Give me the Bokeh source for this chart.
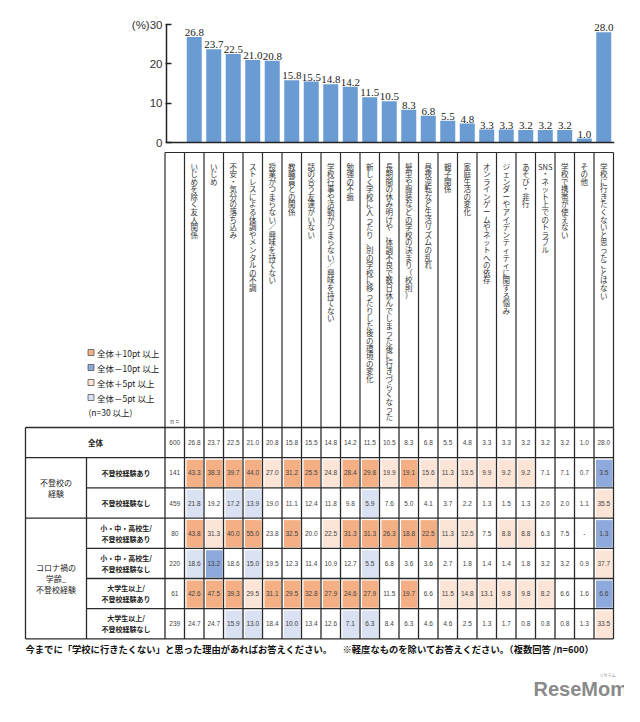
from bokeh.plotting import figure
from bokeh.models import Range1d, LinearAxis, FixedTicker, Span
from bokeh.core.properties import value
from bokeh.embed import file_html
from bokeh.resources import INLINE

# ---------------- data ----------------
categories = [
    "いじめを除く友人関係", "いじめ", "不安・気分の落ち込み", "ストレスによる体調やメンタルの不調",
    "授業がつまらない／興味を持てない", "教職員との関係", "話の合う友達がいない",
    "学校行事や活動がつまらない／興味を持てない", "勉強の不振",
    "新しく学校に入ったり、別の学校に移ったりした後の環境の変化",
    "長期間の休み明けや、体調不良で数日休んでしまった後に行きづらくなった",
    "髪型や服装などの学校の決まり（校則）", "昼夜逆転など生活リズムの乱れ", "親子関係",
    "家庭生活の変化", "オンラインゲームやネットへの依存", "ジェンダーやアイデンティティに関する悩み",
    "あそび・非行", "SNS・ネット上でのトラブル", "学校で携帯が使えない", "その他",
    "学校に行きたくないと思ったことはない",
]
overall = [26.8, 23.7, 22.5, 21.0, 20.8, 15.8, 15.5, 14.8, 14.2, 11.5, 10.5,
           8.3, 6.8, 5.5, 4.8, 3.3, 3.3, 3.2, 3.2, 3.2, 1.0, 28.0]

row_labels = ["全体", "不登校経験あり", "不登校経験なし", "小・中・高校生/\n不登校経験あり",
              "小・中・高校生/\n不登校経験なし", "大学生以上/\n不登校経験あり", "大学生以上/\n不登校経験なし"]
group_labels = ["不登校の\n経験", "コロナ禍の\n学齢_\n不登校経験"]
n_values = [600, 141, 459, 80, 220, 61, 239]

exp_yes = [43.3, 38.3, 39.7, 44.0, 27.0, 31.2, 25.5, 24.8, 28.4, 29.8, 19.9,
           19.1, 15.6, 11.3, 13.5, 9.9, 9.2, 9.2, 7.1, 7.1, 0.7, 3.5]
exp_no = [21.8, 19.2, 17.2, 13.9, 19.0, 11.1, 12.4, 11.8, 9.8, 5.9, 7.6,
          5.0, 4.1, 3.7, 2.2, 1.3, 1.5, 1.3, 2.0, 2.0, 1.1, 35.5]
school_yes = [43.8, 31.3, 40.0, 55.0, 23.8, 32.5, 20.0, 22.5, 31.3, 31.3, 26.3,
              18.8, 22.5, 11.3, 12.5, 7.5, 8.8, 8.8, 6.3, 7.5, None, 1.3]
school_no = [18.6, 13.2, 18.6, 15.0, 19.5, 12.3, 11.4, 10.9, 12.7, 5.5, 6.8,
             3.6, 3.6, 2.7, 1.8, 1.4, 1.4, 1.8, 3.2, 3.2, 0.9, 37.7]
univ_yes = [42.6, 47.5, 39.3, 29.5, 31.1, 29.5, 32.8, 27.9, 24.6, 27.9, 11.5,
            19.7, 6.6, 11.5, 14.8, 13.1, 9.8, 9.8, 8.2, 6.6, 1.6, 6.6]
univ_no = [24.7, 24.7, 15.9, 13.0, 18.4, 10.0, 13.4, 12.6, 7.1, 6.3, 8.4,
           6.3, 4.6, 4.6, 2.5, 1.3, 1.7, 0.8, 0.8, 0.8, 1.3, 33.5]

# highlight codes: O=+10pt, B=-10pt, o=+5pt, b=-5pt, .=none
highlights = [
    "......................",
    "OOOOoOOoOOoOoooooo...B",
    "b.bb.....b...........o",
    "OoOO.O.oOOOOOoo.oo...B",
    "bB.b.....b...........o",
    "OOOoOOOOOO.O.oooooo..B",
    "..bb.b..bb...........o",
]
legend_labels = ["全体＋10pt 以上", "全体－10pt 以上", "全体＋5pt 以上", "全体－5pt 以上"]
legend_codes = ["O", "B", "o", "b"]
legend_note = "(n=30 以上)"
footer_main = "今までに「学校に行きたくない」と思った理由があればお答えください。"
footer_note = "※軽度なものを除いてお答えください。（複数回答 /n=600）"
y_ticks = [0, 10, 20, 30]

# ---------------- styles ----------------
fill = {"O": "#F4B084", "B": "#8EA9DB", "o": "#FCE4D6", "b": "#D9E1F2"}
BAR = "#6A9BD3"
JP = value("Noto Sans CJK JP")
NUM = value("Liberation Sans")
NARROW = value("Liberation Sans Narrow")
COL_W = 19.5
X0 = 184.0
W = 624


def ux(px):
    return (px - X0) / COL_W


def vert(s):
    toks, buf = [], ""
    for ch in s:
        if ch.isascii() and ch.isalnum():
            buf += ch
        else:
            if buf:
                toks.append(buf)
                buf = ""
            toks.append(ch)
    if buf:
        toks.append(buf)
    return "\n".join(toks)


ncol = len(categories)
xs = [i + 0.5 for i in range(ncol)]

# ---------------- bar chart ----------------
ppu = 118 / 30.0
A_TOP, A_BOT = 16, 150
pA = figure(width=W, height=A_BOT, x_range=Range1d(ux(166), ux(614)),
            y_range=Range1d(-2 / ppu, 30 + 8 / ppu),
            min_border_left=166, min_border_right=W - 614, min_border_top=A_TOP,
            min_border_bottom=A_BOT - 144,
            x_axis_type=None, y_axis_type=None, output_backend="svg",
            toolbar_location=None, outline_line_color=None)
yax = LinearAxis(ticker=FixedTicker(ticks=y_ticks), bounds=(0, 30))
yax.major_label_overrides = {30: "(%)30"}
yax.major_label_text_font = "Liberation Sans"
yax.major_label_text_font_size = "11.5px"
yax.major_label_text_color = "#333333"
yax.major_tick_in = 5
yax.major_tick_out = 1
yax.minor_tick_line_color = None
yax.axis_line_width = 1.5
yax.axis_line_color = "#222222"
yax.major_tick_line_color = "#222222"
yax.major_tick_line_width = 1.5
yax.major_label_standoff = 3
pA.add_layout(yax, "left")
pA.vbar(x=xs, top=overall, width=0.77, fill_color=BAR, line_color=None)
pA.text(x=xs, y=overall, text=[f"{v:.1f}" for v in overall], text_align="center",
        text_baseline="bottom", y_offset=-1, text_font=NARROW, text_font_size="11px",
        text_color="#222222")
pA.add_layout(Span(location=0, dimension="width", line_color="#222222", line_width=1.5))

# ---------------- table ----------------
B_BOT = 714
pB = figure(width=W, height=B_BOT - A_BOT, x_range=Range1d(ux(0), ux(W)),
            y_range=Range1d(B_BOT, A_BOT),
            min_border=0, x_axis_type=None, y_axis_type=None, output_backend="svg",
            toolbar_location=None, outline_line_color=None)

LC = "#2a2a2a"
HEAD_TOP, TAB_TOP, PITCH = 152, 427, 30.2
rows = [overall, exp_yes, exp_no, school_yes, school_no, univ_yes, univ_no]
RT = [TAB_TOP + PITCH * r for r in range(len(rows) + 1)]

# header grid
pB.segment(x0=[k for k in range(-1, ncol + 1)], y0=[HEAD_TOP] * (ncol + 2),
           x1=[k for k in range(-1, ncol + 1)], y1=[TAB_TOP] * (ncol + 2), line_color=LC, line_width=1.2)
pB.segment(x0=[-1], y0=[HEAD_TOP], x1=[ncol], y1=[HEAD_TOP], line_color=LC, line_width=1.2)

# header labels (vertical)
pB.text(x=xs, y=[160] * ncol, text=[vert(c) for c in categories], text_align="center",
        text_baseline="top", text_font=JP, text_font_size="7.5px", text_line_height=0.69,
        text_color="#333333")
pB.text(x=[-0.5], y=[421], text=["n ="], text_align="center", text_baseline="middle",
        text_font=NUM, text_font_size="6.5px", text_color="#444444")

# cell fills
ql, qr, qt, qb, qc = [], [], [], [], []
for r, codes in enumerate(highlights):
    for i, c in enumerate(codes):
        if c in fill:
            ql.append(i + 2 / COL_W)
            qr.append(i + 1 - 1 / COL_W)
            qt.append(RT[r] + 2)
            qb.append(RT[r + 1] - 1)
            qc.append(fill[c])
pB.quad(left=ql, right=qr, top=qt, bottom=qb, fill_color=qc, line_color=None)

# body grid
full = [0, 1, 3, 7]
hx0, hy, hx1 = [], [], []
for r in range(len(RT)):
    hx0.append(ux(25) if r in full else ux(86))
    hx1.append(ncol)
    hy.append(RT[r])
pB.segment(x0=hx0, y0=hy, x1=hx1, y1=hy, line_color=LC, line_width=1.3)
vx = [ux(25), ux(86)] + [k for k in range(-1, ncol + 1)]
vy0 = [RT[0], RT[1]] + [RT[0]] * (ncol + 2)
pB.segment(x0=vx, y0=vy0, x1=vx, y1=[RT[-1]] * len(vx), line_color=LC, line_width=1.3)

# cell values
tx, ty, tt = [], [], []
for r, vals in enumerate(rows):
    cy = (RT[r] + RT[r + 1]) / 2
    for i, v in enumerate(vals):
        tx.append(i + 0.5)
        ty.append(cy)
        tt.append("-" if v is None else f"{v:.1f}")
pB.text(x=tx, y=ty, text=tt, text_align="center", text_baseline="middle",
        text_font=NUM, text_font_size="6.5px", text_color="#444444")
pB.text(x=[-0.5] * len(n_values), y=[(RT[r] + RT[r + 1]) / 2 for r in range(len(n_values))],
        text=[str(n) for n in n_values], text_align="center", text_baseline="middle",
        text_font=NUM, text_font_size="6.5px", text_color="#444444")

# row labels
pB.text(x=[ux(95)], y=[(RT[0] + RT[1]) / 2], text=[row_labels[0]], text_align="center",
        text_baseline="middle", text_font=JP, text_font_size="7.5px", text_font_style="bold",
        text_color="#222222")
pB.text(x=[ux(125.5)] * 6, y=[(RT[r] + RT[r + 1]) / 2 for r in range(1, 7)], text=row_labels[1:],
        text_align="center", text_baseline="middle", text_font=JP, text_font_size="7px",
        text_font_style="bold", text_line_height=1.13, text_color="#222222")
pB.text(x=[ux(55.5)] * 2, y=[(RT[1] + RT[3]) / 2, (RT[3] + RT[7]) / 2], text=group_labels,
        text_align="center", text_baseline="middle", text_font=JP, text_font_size="8px",
        text_line_height=1.02, text_color="#222222")

# legend
ly = [352, 367, 382, 397]
pB.scatter(x=[ux(90.5)] * 4, y=ly, marker="square", size=6,
           fill_color=[fill[c] for c in legend_codes], line_color="#555555", line_width=0.8)
pB.text(x=[ux(96.5)] * 4, y=ly, text=legend_labels, text_align="left", text_baseline="middle",
        text_font=JP, text_font_size="8.5px", text_color="#222222")
pB.text(x=[ux(88)], y=[411], text=[legend_note], text_align="left", text_baseline="middle",
        text_font=JP, text_font_size="8.5px", text_color="#222222")

# footer
pB.text(x=[ux(25), ux(342)], y=[648, 648], text=[footer_main, footer_note], text_align="left",
        text_baseline="middle", text_font=JP, text_font_size="9.3px", text_font_style="bold",
        text_color="#111111")
# logo
pB.text(x=[ux(533)], y=[688], text=["ReseMom"], text_align="left", text_baseline="middle",
        text_font=value("Liberation Sans"), text_font_size="20px", text_font_style="bold",
        text_color="#8a8a8a")
pB.text(x=[ux(607)], y=[674], text=["リセマム"], text_align="center", text_baseline="middle",
        text_font=JP, text_font_size="4px", text_color="#8a8a8a")

open("out.html", "w").write(file_html([pA, pB], INLINE))
